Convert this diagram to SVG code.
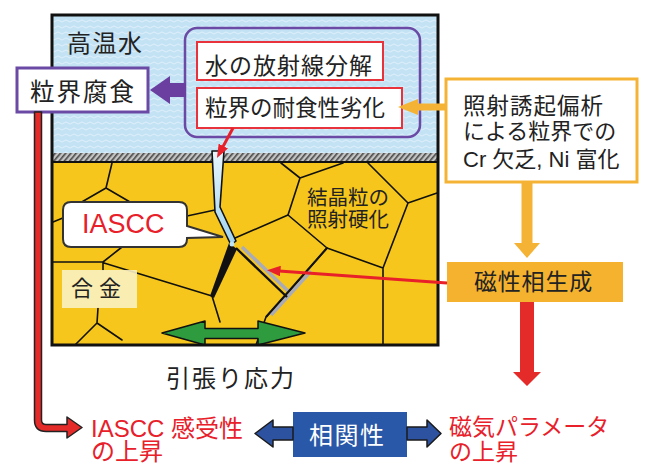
<svg xmlns="http://www.w3.org/2000/svg" width="647" height="466" viewBox="0 0 647 466">
  <style>
    .t { font-family: "Noto Sans CJK JP", "Noto Sans", sans-serif; fill: #222; }
    .lat { font-family: "Liberation Sans", "Noto Sans CJK JP", sans-serif; }
    .red { fill: #e8202a; }
    .gb { fill: none; stroke: #111; stroke-width: 1.6; stroke-linecap: round; stroke-linejoin: round; }
    .gray { fill: none; stroke: #a9abb8; stroke-width: 3.5; stroke-linecap: butt; }
    .thin-red { fill: none; stroke: #e8202a; stroke-width: 3; }
    .redbox { fill: #fff; stroke: #e8323c; stroke-width: 2; }
  </style>
  <defs>
    <pattern id="water" width="8" height="6" patternUnits="userSpaceOnUse">
      <rect width="8" height="6" fill="#c3e2f4"/>
      <path d="M0 3 q2 -2 4 0 t4 0" fill="none" stroke="#e6f3fb" stroke-width="0.8"/>
    </pattern>
    <pattern id="hatch" width="4" height="8" patternUnits="userSpaceOnUse" patternTransform="rotate(40)">
      <rect width="4" height="8" fill="#c4c4c4"/>
      <rect width="1.6" height="8" fill="#4a4a4a"/>
    </pattern>
    <linearGradient id="crackFill" x1="0" y1="0" x2="0" y2="1">
      <stop offset="0" stop-color="#e8f6fd"/>
      <stop offset="1" stop-color="#9fd3ee"/>
    </linearGradient>
    <marker id="redHead" viewBox="0 0 9 7" refX="1" refY="3.5" markerWidth="4.5" markerHeight="3.5" orient="auto" markerUnits="strokeWidth">
      <path d="M0 0 L9 3.5 L0 7 Z" fill="#e8202a"/>
    </marker>
  </defs>

  <rect width="647" height="466" fill="#fff"/>

  <!-- specimen: water, oxide strip, alloy -->
  <g id="specimen">
    <rect x="52" y="15" width="386" height="138" fill="url(#water)"/>
    <rect x="52" y="153" width="386" height="8" fill="url(#hatch)"/>
    <rect x="52" y="162" width="386" height="183" fill="#f6c61c"/>
    <line x1="52" y1="162" x2="438" y2="162" stroke="#111" stroke-width="2"/>

    <!-- grain boundaries -->
    <g id="grains">
      <path class="gb" d="M112 163 L106 188 L80 203 M106 188 L130 202"/>
      <path class="gb" d="M53 222 L75 213"/>
      <path class="gb" d="M52 262 L103 262 L122 247 M103 262 L103 270 M104 263 L212 296 L220 322"/>
      <path class="gb" d="M98 308 L97 323 L75 345 M97 323 L122 340"/>
      <path class="gb" d="M187 216 L215 210"/>
      <path class="gb" d="M235 238 L288 215 L300 178 L281 163 M300 178 L343 163"/>
      <path class="gb" d="M288 215 L327 248 L383 268 L408 203 L368 163 M408 203 L437 193 M383 268 L383 345"/>
      <path class="gb" d="M327 248 L286 295 L266 317 L256 345"/>
    </g>

    <!-- irradiation-hardened boundaries with magnetic phase -->
    <line class="gray" x1="242" y1="247" x2="289" y2="292"/>
    <line class="gray" x1="311" y1="271" x2="271" y2="315"/>
    <line x1="236" y1="248" x2="287" y2="297" stroke="#111" stroke-width="2.4"/>
    <line x1="327" y1="248" x2="266" y2="317" stroke="#111" stroke-width="2"/>

    <!-- crack -->
    <path d="M212 151 L224 151 L220 207 L236 241 L231 245 L215 212 Z" fill="url(#crackFill)" stroke="#111" stroke-width="1.6" stroke-linejoin="round"/>
    <path d="M229 243 L237 249 L214 298 L210 296 Z" fill="#111"/>
    <circle cx="232" cy="244" r="2.5" fill="#bfe4f6"/>

    <!-- label: IASCC with pointer -->
    <g id="iascc-label">
      <path d="M71 202 H179 Q187 202 187 210 V226 L223 237 L187 238 V239 Q187 247 179 247 H71 Q63 247 63 239 V210 Q63 202 71 202 Z" fill="#fff" stroke="#333" stroke-width="2"/>
      <text class="lat red" x="82" y="233" font-size="27">IASCC</text>
    </g>

    <!-- label: alloy -->
    <g id="alloy-label">
      <rect x="62" y="270" width="75" height="38" fill="#f9f1c2" opacity="0.9"/>
      <text class="t" x="71" y="296" font-size="22" letter-spacing="6">合金</text>
    </g>

    <text class="t" x="67" y="52" font-size="24" letter-spacing="1.5">高温水</text>
    <text class="t" font-size="20.5"><tspan x="307" y="205">結晶粒の</tspan><tspan x="307" y="227">照射硬化</tspan></text>

    <!-- tensile load arrow -->
    <path d="M162 333 L205 321 L205 328.5 L258 328.5 L258 321 L305 333 L258 345 L258 338.5 L205 338.5 L205 345 Z" fill="#2e9b3e" stroke="#111" stroke-width="1.5" stroke-linejoin="round"/>

    <rect x="52" y="15" width="386" height="330" fill="none" stroke="#111" stroke-width="3"/>
  </g>

  <!-- nodes -->
  <g id="water-mechanisms">
    <rect x="185" y="28" width="235" height="109" rx="12" fill="none" stroke="#6a4aa5" stroke-width="2.5"/>
  </g>
  <g id="radiolysis">
    <rect class="redbox" x="197" y="42" width="186" height="38"/>
    <text class="t" x="205" y="74" font-size="23" letter-spacing="1">水の放射線分解</text>
  </g>
  <g id="corrosion-resistance">
    <rect class="redbox" x="197" y="88" width="205" height="40"/>
    <text class="t" x="205" y="116" font-size="22.5">粒界の耐食性劣化</text>
  </g>
  <g id="intergranular-corrosion">
    <rect x="17" y="68" width="131" height="44" fill="#fff" stroke="#6a4aa5" stroke-width="3"/>
    <text class="t" x="30" y="101" font-size="24.5" letter-spacing="2">粒界腐食</text>
  </g>
  <g id="segregation">
    <rect x="446" y="79" width="191" height="103" fill="#fff" stroke="#f5b335" stroke-width="3"/>
    <text class="t lat" font-size="22">
      <tspan x="463" y="114" font-size="22.5" letter-spacing="1">照射誘起偏析</tspan>
      <tspan x="463" y="139">による粒界での</tspan>
      <tspan x="463" y="167">Cr 欠乏, Ni 富化</tspan>
    </text>
  </g>
  <g id="magnetic-phase">
    <rect x="447" y="262" width="176" height="40" fill="#f4b22f"/>
    <text class="t" x="474" y="290" font-size="23" letter-spacing="0.8">磁性相生成</text>
  </g>
  <g id="tensile-stress">
    <text class="t" x="166" y="387" font-size="24" letter-spacing="2">引張り応力</text>
  </g>
  <g id="iascc-susceptibility">
    <text class="lat red" font-size="24"><tspan x="91" y="437">IASCC 感受性</tspan><tspan x="91" y="460">の上昇</tspan></text>
  </g>
  <g id="correlation">
    <rect x="293" y="412" width="114" height="45" fill="#2a58a8"/>
    <text class="t" x="309" y="444" font-size="24" letter-spacing="1.5" style="fill:#fff">相関性</text>
  </g>
  <g id="magnetic-parameter">
    <text class="t red" font-size="23"><tspan x="449" y="435">磁気パラメータ</tspan><tspan x="449" y="460">の上昇</tspan></text>
  </g>

  <!-- connectors -->
  <g id="connectors">
    <path d="M186 83 L170 83 L170 76 L150 90 L170 104 L170 97 L186 97 Z" fill="#6a3fa0"/>
    <path d="M446 103.5 L418 103.5 L418 99 L398 107 L418 115 L418 110.5 L446 110.5 Z" fill="#f5b335"/>
    <path d="M521.5 183 L532.5 183 L532.5 243 L540 243 L527 258 L514 243 L521.5 243 Z" fill="#f5b335"/>
    <path d="M520 302 L534 302 L534 372 L541 372 L527 386 L513 372 L520 372 Z" fill="#e52a2a"/>
    <line class="thin-red" x1="233" y1="128" x2="222.6" y2="147.4" marker-end="url(#redHead)"/>
    <line class="thin-red" x1="447" y1="283" x2="279" y2="271" marker-end="url(#redHead)"/>
    <path d="M34.5 112 V420 Q34.5 431.5 46 431.5 H67 V438 L82 427.5 L67 417 V424.5 H46 Q41.5 424.5 41.5 420 V112 Z" fill="#e52a2a" stroke="#222" stroke-width="1.5" stroke-linejoin="round"/>
    <path d="M293 427 L273 427 L273 420 L255 433.5 L273 447 L273 440 L293 440 Z" fill="#2c52a0" stroke="#1a1a1a" stroke-width="1.5" stroke-linejoin="round"/>
    <path d="M407 427 L427 427 L427 420 L441 433.5 L427 447 L427 440 L407 440 Z" fill="#2c52a0" stroke="#1a1a1a" stroke-width="1.5" stroke-linejoin="round"/>
  </g>
</svg>
